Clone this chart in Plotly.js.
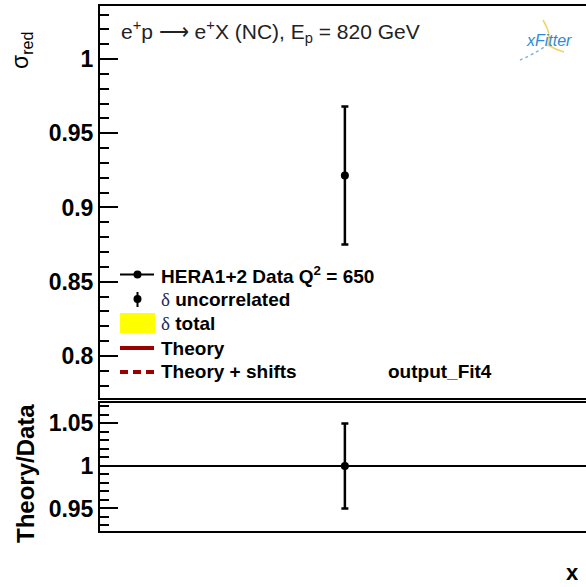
<!DOCTYPE html>
<html>
<head>
<meta charset="utf-8">
<script src="https://cdn.plot.ly/plotly-3.0.1.min.js"></script>
<style>html,body{margin:0;padding:0;background:#fff;overflow:hidden;}</style>
</head>
<body>
<div id="chart" style="width:586px;height:587px;"></div>
<script>
// ---- data ----
const dataX = [0.013];
const sigmaRed = [0.9215];
const errUncorr = [0.0465];
const ratioVals = [1.0];
const ratioErr = [0.05];
const xRange = [0, 0.0258];
const topTicks = [0.8, 0.85, 0.9, 0.95, 1];
const topTickText = ['0.8', '0.85', '0.9', '0.95', '1'];
const botTicks = [0.95, 1, 1.05];
const botTickText = ['0.95', '1', '1.05'];
const deltaSym = '<span style="font-family:Liberation Serif, serif;font-weight:normal;color:#1a2a5a">δ</span>';
const legendNames = ['HERA1+2 Data Q<sup>2</sup> = 650', deltaSym + ' uncorrelated', deltaSym + ' total', 'Theory', 'Theory + shifts'];

// ---- layout helpers (pixel -> paper) ----
const W = 586, H = 587, ML = 100, MR = 0, MT = 6, MB = 56;
const PW = W - ML - MR, PH = H - MT - MB;
const px = x => (x - ML) / PW;
const py = y => (H - MB - y) / PH;

const traces = [
  {x: dataX, y: sigmaRed, xaxis: 'x', yaxis: 'y', type: 'scatter', mode: 'markers', showlegend: false,
   marker: {color: 'black', size: 8},
   error_y: {type: 'data', array: errUncorr, visible: true, color: 'black', thickness: 2.5, width: 3.5}},
  {x: dataX, y: ratioVals, xaxis: 'x2', yaxis: 'y2', type: 'scatter', mode: 'markers', showlegend: false,
   marker: {color: 'black', size: 8},
   error_y: {type: 'data', array: ratioErr, visible: true, color: 'black', thickness: 2.5, width: 3.5}}
];

const fam = 'Liberation Sans, Arial, sans-serif';
const tickFont = {family: fam, size: 23, color: 'black', weight: 'bold'};
const minorSpec = {dtick: 0.01, ticklen: 9, tickwidth: 2, tickcolor: 'black', ticks: 'inside'};

// legend drawn manually
const rowsY = [274.5, 299, 323, 348, 372];
const symX0 = 120, symX1 = 154, symXc = 137.5, textX = 159;
const shapes = [
  {type: 'line', xref: 'paper', x0: 0, x1: 1, yref: 'y2', y0: ratioVals[0], y1: ratioVals[0], line: {color: 'black', width: 2}},
  // row 1: line + marker
  {type: 'line', xref: 'paper', yref: 'paper', x0: px(symX0), x1: px(symX1), y0: py(rowsY[0]), y1: py(rowsY[0]), line: {color: 'black', width: 2}},
  {type: 'circle', xref: 'paper', yref: 'paper', x0: px(symXc - 4), x1: px(symXc + 4), y0: py(rowsY[0] + 4), y1: py(rowsY[0] - 4), fillcolor: 'black', line: {width: 0}},
  // row 2: marker with vertical bar
  {type: 'line', xref: 'paper', yref: 'paper', x0: px(symXc), x1: px(symXc), y0: py(rowsY[1] - 7), y1: py(rowsY[1] + 8), line: {color: 'black', width: 2}},
  {type: 'circle', xref: 'paper', yref: 'paper', x0: px(symXc - 4), x1: px(symXc + 4), y0: py(rowsY[1] + 4), y1: py(rowsY[1] - 4), fillcolor: 'black', line: {width: 0}},
  // row 3: yellow box
  {type: 'rect', xref: 'paper', yref: 'paper', x0: px(symX0), x1: px(symX1 + 1), y0: py(rowsY[2] + 10), y1: py(rowsY[2] - 10), fillcolor: '#ffff00', line: {width: 0}},
  // row 4: solid theory line
  {type: 'line', xref: 'paper', yref: 'paper', x0: px(symX0), x1: px(symX1), y0: py(rowsY[3]), y1: py(rowsY[3]), line: {color: '#990000', width: 4}},
  // row 5: dashed theory + shifts
  {type: 'line', xref: 'paper', yref: 'paper', x0: px(symX0), x1: px(symX1), y0: py(rowsY[4]), y1: py(rowsY[4]), line: {color: '#990000', width: 4, dash: '8px,5px'}},
  // xFitter logo swirl
  {type: 'path', xref: 'paper', yref: 'paper', path: `M ${px(543)} ${py(20)} Q ${px(552)} ${py(35)} ${px(548)} ${py(45)} Q ${px(556)} ${py(50)} ${px(564)} ${py(52)}`, line: {color: '#f5d36a', width: 1.5}},
  {type: 'path', xref: 'paper', yref: 'paper', path: `M ${px(520)} ${py(60)} Q ${px(532)} ${py(55)} ${px(546)} ${py(46)}`, line: {color: '#7fb6e6', width: 1.5, dash: 'dot'}}
];

const annotations = [
  {text: 'e<sup>+</sup>p ⟶ e<sup>+</sup>X (NC), E<sub>p</sub> = 820 GeV', xref: 'paper', yref: 'paper',
   x: px(119), y: py(31), xanchor: 'left', yanchor: 'middle', showarrow: false,
   font: {family: fam, size: 21, color: '#222'}},
  {text: '<i>xFitter</i>', xref: 'paper', yref: 'paper', x: px(549), y: py(40), xanchor: 'center', yanchor: 'middle', showarrow: false,
   font: {family: fam, size: 16, color: '#2f8ad6'}},
  {text: 'output_Fit4', xref: 'paper', yref: 'paper', x: px(386), y: py(372), xanchor: 'left', yanchor: 'middle', showarrow: false,
   font: {family: fam, size: 19, color: 'black', weight: 'bold'}},
  {text: 'σ<sub>red</sub>', xref: 'paper', yref: 'paper', x: px(21), y: py(51), xanchor: 'center', yanchor: 'middle', showarrow: false,
   textangle: -90, font: {family: fam, size: 23, color: 'black'}},
  {text: '<b>Theory/Data</b>', xref: 'paper', yref: 'paper', x: px(25), y: py(474), xanchor: 'center', yanchor: 'middle', showarrow: false,
   textangle: -90, font: {family: fam, size: 24, color: 'black'}},
  {text: '<b>x</b>', xref: 'paper', yref: 'paper', x: px(572), y: py(572), xanchor: 'center', yanchor: 'middle', showarrow: false,
   font: {family: fam, size: 22, color: 'black'}}
];
legendNames.forEach((name, i) => {
  annotations.push({text: name, xref: 'paper', yref: 'paper', x: px(textX), y: py(rowsY[i]), xanchor: 'left', yanchor: 'middle',
    showarrow: false, font: {family: fam, size: 19, color: 'black', weight: 'bold'}});
});

const layout = {
  width: W, height: H,
  margin: {l: ML, r: MR, t: MT, b: MB},
  paper_bgcolor: 'white', plot_bgcolor: 'white',
  showlegend: false,
  xaxis: {domain: [0, 1], anchor: 'y', range: xRange, showline: true, mirror: true, linecolor: 'black', linewidth: 2,
          showgrid: false, zeroline: false, showticklabels: false, ticks: ''},
  yaxis: {domain: [py(398), 1], anchor: 'x', range: [0.7716, 1.0358], showline: true, linecolor: 'black', linewidth: 2,
          showgrid: false, zeroline: false, ticks: 'inside', ticklen: 18, tickwidth: 2, tickcolor: 'black',
          tickmode: 'array', tickvals: topTicks, ticktext: topTickText, tickfont: tickFont, minor: minorSpec},
  xaxis2: {domain: [0, 1], anchor: 'y2', matches: 'x', range: xRange, showline: true, mirror: true, linecolor: 'black', linewidth: 2,
          showgrid: false, zeroline: false, showticklabels: false, ticks: ''},
  yaxis2: {domain: [0, py(403)], anchor: 'x2', range: [0.9235, 1.074], showline: true, linecolor: 'black', linewidth: 2,
          showgrid: false, zeroline: false, ticks: 'inside', ticklen: 18, tickwidth: 2, tickcolor: 'black',
          tickmode: 'array', tickvals: botTicks, ticktext: botTickText, tickfont: tickFont, minor: minorSpec},
  shapes: shapes,
  annotations: annotations
};

Plotly.newPlot('chart', traces, layout, {staticPlot: true, displayModeBar: false});
</script>
</body>
</html>
